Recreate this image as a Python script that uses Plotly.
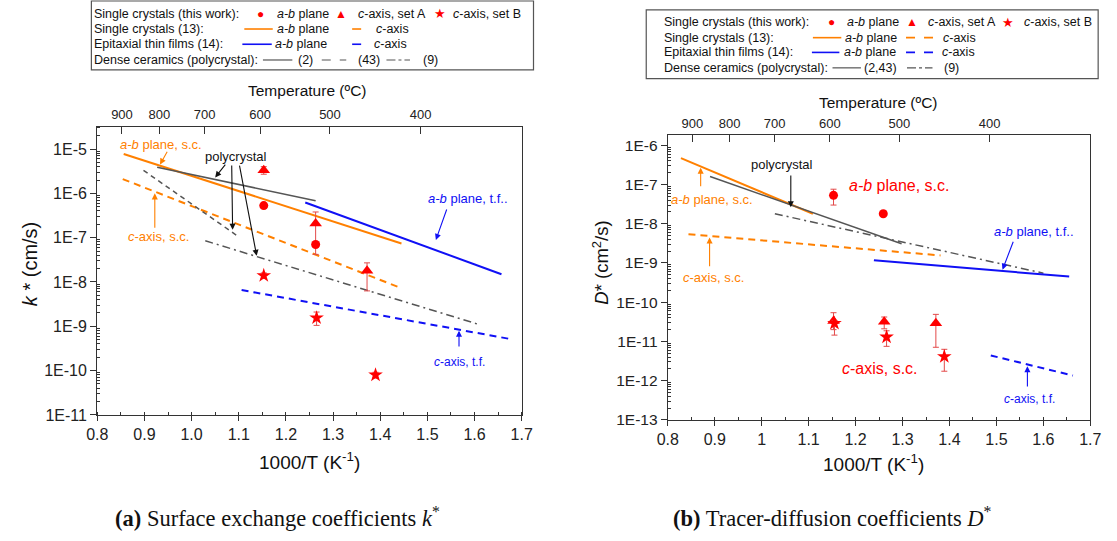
import plotly.graph_objects as go

W, H = 1117, 541

# ---------------- data: panel (a) surface exchange k* ----------------
temps_c = [900, 800, 700, 600, 500, 400]

a_ab_x = [1.153, 1.263]
a_ab_y = [5.3e-7, 7.0e-8]
a_ab_ep = [0.5e-7, 1.4e-7]
a_ab_em = [0.5e-7, 2.8e-8]

a_cA_x = [1.153, 1.263, 1.372]
a_cA_y = [3.3e-6, 2.1e-7, 1.8e-8]
a_cA_ep = [0.7e-6, 1.7e-7, 0.9e-8]
a_cA_em = [0.6e-6, 0.0, 1.17e-8]

a_cB_x = [1.153, 1.265, 1.390]
a_cB_y = [1.4e-8, 1.55e-9, 8.0e-11]
a_cB_ep = [0.2e-8, 0.55e-9, 1.2e-11]
a_cB_em = [0.2e-8, 0.5e-9, 1.2e-11]

a_sc_ab_x = [0.856, 1.445]
a_sc_ab_y = [7.7e-6, 7.4e-8]
a_sc_c_x = [0.854, 1.444]
a_sc_c_y = [2.1e-6, 7.3e-9]
a_p2_x = [0.927, 1.263]
a_p2_y = [3.9e-6, 6.8e-7]
a_p43_x = [0.898, 1.097]
a_p43_y = [3.3e-6, 1.1e-7]
a_p9_x = [1.029, 1.613]
a_p9_y = [8.5e-8, 1.07e-9]
a_tf_ab_x = [1.241, 1.657]
a_tf_ab_y = [6.2e-7, 1.5e-8]
a_tf_c_x = [1.106, 1.679]
a_tf_c_y = [6.6e-9, 5.1e-10]

# ---------------- data: panel (b) tracer diffusion D* ----------------
b_ab_x = [1.153, 1.259]
b_ab_y = [5.3e-8, 1.8e-8]
b_ab_ep = [2.3e-8, 1.0e-9]
b_ab_em = [2.3e-8, 1.0e-9]

b_cA_x = [1.153, 1.261, 1.371]
b_cA_y = [3.3e-11, 3.2e-11, 2.9e-11]
b_cA_ep = [2.1e-11, 1.0e-11, 2.0e-11]
b_cA_em = [1.3e-11, 1.1e-11, 2.19e-11]

b_cB_x = [1.155, 1.266, 1.389]
b_cB_y = [2.9e-11, 1.3e-11, 4.1e-12]
b_cB_ep = [0.4e-11, 0.57e-11, 2.2e-12]
b_cB_em = [1.45e-11, 0.55e-11, 2.36e-12]

b_sc_ab_x = [0.828, 1.109]
b_sc_ab_y = [4.7e-7, 1.8e-8]
b_sc_c_x = [0.844, 1.381]
b_sc_c_y = [5.4e-9, 1.56e-9]
b_p243_x = [0.890, 1.298]
b_p243_y = [1.6e-7, 3.1e-9]
b_p9_x = [1.028, 1.600]
b_p9_y = [1.8e-8, 5.5e-10]
b_tf_ab_x = [1.239, 1.655]
b_tf_ab_y = [1.17e-9, 4.5e-10]
b_tf_c_x = [1.488, 1.663]
b_tf_c_y = [4.4e-12, 1.35e-12]

# ---------------- styles ----------------
ORANGE = "#FF8000"
BLUE = "#1010F5"
GRAY = "#555555"
RED = "#FF0000"
ERR = "#E34A4A"
FONT = "Liberation Sans, Arial, sans-serif"
SERIF = "Liberation Serif, Times New Roman, serif"
DASH = "7px,5px"
GDASH = "5px,4px"
DASHDOT = "8px,4px,2px,4px"


def px(x):
    return x / W


def py(y):
    return 1 - y / H


fig = go.Figure()


def add_line(xs, ys, color, width, dash, xa, ya):
    fig.add_trace(go.Scatter(x=xs, y=ys, mode="lines", xaxis=xa, yaxis=ya,
                             line=dict(color=color, width=width, dash=dash),
                             showlegend=False, hoverinfo="skip"))


def add_pts(xs, ys, ep, em, symbol, size, xa, ya):
    fig.add_trace(go.Scatter(x=xs, y=ys, mode="markers", xaxis=xa, yaxis=ya,
                             marker=dict(symbol=symbol, size=size, color=RED,
                                         line=dict(width=0)),
                             error_y=dict(type="data", symmetric=False, array=ep,
                                          arrayminus=em, color=ERR, thickness=1, width=3),
                             showlegend=False))


# panel a lines
add_line(a_sc_ab_x, a_sc_ab_y, ORANGE, 2, "solid", "x", "y")
add_line(a_sc_c_x, a_sc_c_y, ORANGE, 2, DASH, "x", "y")
add_line(a_p2_x, a_p2_y, GRAY, 1.5, "solid", "x", "y")
add_line(a_p43_x, a_p43_y, GRAY, 1.5, GDASH, "x", "y")
add_line(a_p9_x, a_p9_y, GRAY, 1.5, DASHDOT, "x", "y")
add_line(a_tf_ab_x, a_tf_ab_y, BLUE, 2, "solid", "x", "y")
add_line(a_tf_c_x, a_tf_c_y, BLUE, 2, DASH, "x", "y")
add_pts(a_ab_x, a_ab_y, a_ab_ep, a_ab_em, "circle", 9, "x", "y")
add_pts(a_cA_x, a_cA_y, a_cA_ep, a_cA_em, "triangle-up", 11, "x", "y")
add_pts(a_cB_x, a_cB_y, a_cB_ep, a_cB_em, "star", 11, "x", "y")

# panel b lines
add_line(b_sc_ab_x, b_sc_ab_y, ORANGE, 2, "solid", "x2", "y2")
add_line(b_sc_c_x, b_sc_c_y, ORANGE, 2, DASH, "x2", "y2")
add_line(b_p243_x, b_p243_y, GRAY, 1.5, "solid", "x2", "y2")
add_line(b_p9_x, b_p9_y, GRAY, 1.5, DASHDOT, "x2", "y2")
add_line(b_tf_ab_x, b_tf_ab_y, BLUE, 2, "solid", "x2", "y2")
add_line(b_tf_c_x, b_tf_c_y, BLUE, 2, DASH, "x2", "y2")
add_pts(b_ab_x, b_ab_y, b_ab_ep, b_ab_em, "circle", 9, "x2", "y2")
add_pts(b_cA_x, b_cA_y, b_cA_ep, b_cA_em, "triangle-up", 11, "x2", "y2")
add_pts(b_cB_x, b_cB_y, b_cB_ep, b_cB_em, "star", 11, "x2", "y2")

# invisible traces to activate the top temperature axes
fig.add_trace(go.Scatter(x=[0.8, 1.7], y=[1e-11, 1e-11], xaxis="x3", yaxis="y", mode="markers",
                         marker=dict(opacity=0), showlegend=False, hoverinfo="skip"))
fig.add_trace(go.Scatter(x=[0.8, 1.7], y=[1e-13, 1e-13], xaxis="x4", yaxis="y2", mode="markers",
                         marker=dict(opacity=0), showlegend=False, hoverinfo="skip"))

temp_pos = [1000.0 / (t + 273.15) for t in temps_c]
temp_txt = [str(t) for t in temps_c]


def log_minor(lo, hi):
    vals = []
    for d in range(lo, hi):
        for m in range(2, 10):
            vals.append(m * 10.0 ** d)
    return vals


ya_major = [10.0 ** e for e in range(-11, -4)]
ya_text = ["1E%d" % e for e in range(-11, -4)]
yb_major = [10.0 ** e for e in range(-13, -5)]
yb_text = ["1E%d" % e for e in range(-13, -5)]

axis_line = dict(showline=True, linecolor="#333333", linewidth=1.3, showgrid=False,
                 zeroline=False, tickcolor="#333333")

fig.update_layout(
    width=W, height=H, margin=dict(l=0, r=0, t=0, b=0),
    paper_bgcolor="white", plot_bgcolor="white",
    font=dict(family=FONT, color="#222222"),
    showlegend=False,
    xaxis=dict(domain=[px(88), px(521)], range=[0.8, 1.7], anchor="y", mirror=True,
               ticks="outside", ticklen=5, tick0=0.8, dtick=0.1, tickformat=".1f",
               tickfont=dict(size=16),
               minor=dict(ticks="inside", ticklen=3, dtick=0.05, tick0=0.8, tickcolor="#333333"),
               **axis_line),
    yaxis=dict(domain=[py(422), py(129)], type="log", range=[-11, -4.5], anchor="x", mirror=True,
               ticks="outside", ticklen=6, tickmode="array", tickvals=ya_major, ticktext=ya_text,
               tickfont=dict(size=16),
               minor=dict(ticks="inside", ticklen=3, tickmode="array",
                          tickvals=log_minor(-11, -4), tickcolor="#333333"),
               **axis_line),
    xaxis3=dict(overlaying="x", side="top", anchor="y", range=[0.8, 1.7], tickmode="array",
                tickvals=temp_pos, ticktext=temp_txt, ticks="inside", ticklen=7,
                tickcolor="#333333", tickfont=dict(size=13), showgrid=False, zeroline=False,
                showline=False, ticklabelstandoff=4),
    xaxis2=dict(domain=[px(670), px(1101)], range=[0.8, 1.7], anchor="y2", mirror=True,
                ticks="outside", ticklen=5, tick0=0.8, dtick=0.1,
                tickfont=dict(size=16),
                minor=dict(ticks="inside", ticklen=3, dtick=0.05, tick0=0.8, tickcolor="#333333"),
                **axis_line),
    yaxis2=dict(domain=[py(427), py(137)], type="log", range=[-13, -5.73], anchor="x2", mirror=True,
                ticks="outside", ticklen=6, tickmode="array", tickvals=yb_major, ticktext=yb_text,
                tickfont=dict(size=15.5),
                minor=dict(ticks="inside", ticklen=3, tickmode="array",
                           tickvals=log_minor(-13, -5), tickcolor="#333333"),
                **axis_line),
    xaxis4=dict(overlaying="x2", side="top", anchor="y2", range=[0.8, 1.7], tickmode="array",
                tickvals=temp_pos, ticktext=temp_txt, ticks="inside", ticklen=7,
                tickcolor="#333333", tickfont=dict(size=13), showgrid=False, zeroline=False,
                showline=False, ticklabelstandoff=3),
)

ann = []
shapes = []

# ---------- in-plot labels ----------
labels_a = [
    ("<i>a-b</i> plane, s.c.", 0.935, -4.90, ORANGE, 13),
    ("<i>c</i>-axis, s.c.", 0.929, -6.98, ORANGE, 13),
    ("polycrystal", 1.095, -5.165, "#111111", 13),
    ("<i>a-b</i> plane, t.f..", 1.587, -6.11, BLUE, 13),
    ("<i>c</i>-axis, t.f.", 1.568, -9.80, BLUE, 12),
]
arrows_a = [
    (0.950, -5.03, 0.933, -5.35, ORANGE),
    (0.922, -6.81, 0.922, -6.00, ORANGE),
    (1.074, -5.32, 1.050, -5.64, "#111111"),
    (1.085, -5.34, 1.087, -6.82, "#111111"),
    (1.101, -5.34, 1.138, -7.41, "#111111"),
    (1.542, -6.33, 1.518, -7.05, BLUE),
    (1.567, -9.49, 1.567, -9.10, BLUE),
]
labels_b = [
    ("<i>a-b</i> plane, s.c.", 0.895, -7.37, ORANGE, 13),
    ("polycrystal", 1.044, -6.49, "#111111", 13),
    ("<i>c</i>-axis, s.c.", 0.898, -9.37, ORANGE, 13),
    ("<i>a-b</i> plane, s.c.", 1.294, -7.03, RED, 16),
    ("<i>a-b</i> plane, t.f..", 1.580, -8.20, BLUE, 13),
    ("<i>c</i>-axis, s.c.", 1.251, -11.68, RED, 16),
    ("<i>c</i>-axis, t.f.", 1.571, -12.46, BLUE, 12),
]
arrows_b = [
    (0.870, -7.08, 0.870, -6.57, ORANGE),
    (1.062, -6.73, 1.062, -7.58, "#111111"),
    (0.889, -9.12, 0.889, -8.35, ORANGE),
    (1.537, -8.42, 1.513, -9.17, BLUE),
    (1.566, -12.19, 1.566, -11.63, BLUE),
]

for (labels, arrows, xr, yr) in [(labels_a, arrows_a, "x", "y"), (labels_b, arrows_b, "x2", "y2")]:
    for t, x, y, c, s in labels:
        ann.append(dict(text=t, x=x, y=y, xref=xr, yref=yr, showarrow=False,
                        xanchor="center", yanchor="middle",
                        font=dict(size=s, color=c, family=FONT)))
    for tx, ty, hx, hy, c in arrows:
        ann.append(dict(text="", x=hx, y=hy, ax=tx, ay=ty, xref=xr, yref=yr,
                        axref=xr, ayref=yr, showarrow=True, arrowhead=2, arrowsize=1.1,
                        arrowwidth=1.1, arrowcolor=c, standoff=0, startstandoff=0))

# ---------- axis titles (as annotations) ----------
titles = [
    ("<i>k</i> * (cm/s)", 19, 269, -90, 20),
    ("<i>D</i>* (cm<sup>2</sup>/s)", 601, 267, -90, 18.5),
    ("1000/T (K<sup>-1</sup>)", 305, 469, 0, 19),
    ("1000/T (K<sup>-1</sup>)", 880, 471, 0, 19),
    ("Temperature (ºC)", 302, 92, 0, 15.5),
    ("Temperature (ºC)", 885, 104, 0, 15.5),
]
for t, x, y, ang, s in titles:
    ann.append(dict(text=t, x=px(x), y=py(y), xref="paper", yref="paper", showarrow=False,
                    textangle=ang, xanchor="center", yanchor="middle",
                    font=dict(size=s, color="#111111", family=FONT)))

# captions
ann.append(dict(text="<b>(a)</b> Surface exchange coefficients <i>k</i><sup>*</sup>",
                x=px(272), y=py(526), xref="paper", yref="paper", showarrow=False,
                xanchor="center", yanchor="middle",
                font=dict(size=22.5, color="#111111", family=SERIF)))
ann.append(dict(text="<b>(b)</b> Tracer-diffusion coefficients <i>D</i><sup>*</sup>",
                x=px(838), y=py(526), xref="paper", yref="paper", showarrow=False,
                xanchor="center", yanchor="middle",
                font=dict(size=22.5, color="#111111", family=SERIF)))

# ---------- legends ----------
LEG_FS = 12.5


def leg_text(t, x, y, color="#111111", size=LEG_FS, anchor="left"):
    ann.append(dict(text=t, x=px(x), y=py(y), xref="paper", yref="paper", showarrow=False,
                    xanchor=anchor, yanchor="middle",
                    font=dict(size=size, color=color, family=FONT)))


def leg_line(x0, x1, y, color, width, dash):
    shapes.append(dict(type="line", xref="paper", yref="paper", x0=px(x0), x1=px(x1),
                       y0=py(y), y1=py(y), line=dict(color=color, width=width, dash=dash)))


def legend_block(box, rows, text_x, tail):
    x0, x1, y0, y1 = box
    shapes.append(dict(type="rect", xref="paper", yref="paper", x0=px(x0), x1=px(x1),
                       y0=py(y1), y1=py(y0), line=dict(color="#555555", width=1.2)))
    heads = ["Single crystals (this work):", "Single crystals (13):",
             "Epitaxial thin films (14):", "Dense ceramics (polycrystal):"]
    for h, r in zip(heads, rows):
        leg_text(h, text_x, r)
    tail(rows)


def tail_a(rows):
    r1, r2, r3, r4 = rows
    leg_text("●", 255, r1, RED, 12, "center")
    leg_text("<i>a-b</i> plane", 269, r1)
    leg_text("▲", 337, r1, RED, 12, "center")
    leg_text("<i>c</i>-axis, set A", 352, r1)
    leg_text("★", 438, r1, RED, 13, "center")
    leg_text("<i>c</i>-axis, set B", 449, r1)
    leg_line(238, 267, r2, ORANGE, 1.6, "solid")
    leg_text("<i>a-b</i> plane", 269, r2)
    leg_line(348, 365, r2, ORANGE, 1.6, "dash")
    leg_text("<i>c</i>-axis", 370, r2)
    leg_line(236, 266, r3, BLUE, 1.6, "solid")
    leg_text("<i>a-b</i> plane", 267, r3)
    leg_line(348, 365, r3, BLUE, 1.6, "dash")
    leg_text("<i>c</i>-axis", 368, r3)
    leg_line(257, 287, r4, GRAY, 1.2, "solid")
    leg_text("(2)", 291, r4)
    leg_line(317, 342, r4, GRAY, 1.2, "dash")
    leg_text("(43)", 352, r4)
    leg_line(383, 407, r4, GRAY, 1.2, "dashdot")
    leg_text("(9)", 418, r4)


def tail_b(rows):
    r1, r2, r3, r4 = rows
    leg_text("●", 837, r1, RED, 12, "center")
    leg_text("<i>a-b</i> plane", 851, r1)
    leg_text("▲", 919, r1, RED, 12, "center")
    leg_text("<i>c</i>-axis, set A", 933, r1)
    leg_text("★", 1017, r1, RED, 13, "center")
    leg_text("<i>c</i>-axis, set B", 1031, r1)
    leg_line(818, 847, r2, ORANGE, 1.6, "solid")
    leg_text("<i>a-b</i> plane", 849, r2)
    leg_line(913, 942, r2, ORANGE, 1.6, "dash")
    leg_text("<i>c</i>-axis", 949, r2)
    leg_line(817, 845, r3, BLUE, 1.6, "solid")
    leg_text("<i>a-b</i> plane", 848, r3)
    leg_line(913, 942, r3, BLUE, 1.6, "dash")
    leg_text("<i>c</i>-axis", 948, r3)
    leg_line(838, 867, r4, GRAY, 1.2, "solid")
    leg_text("(2,43)", 868, r4)
    leg_line(914, 940, r4, GRAY, 1.2, "dashdot")
    leg_text("(9)", 950, r4)


legend_block((82, 533, 1, 71), [14, 29.5, 45, 61], 83, tail_a)
legend_block((648, 1109, 10, 80), [22.7, 38.3, 53.3, 69], 664, tail_b)

fig.update_layout(annotations=ann, shapes=shapes)
fig.write_html("out.html")
